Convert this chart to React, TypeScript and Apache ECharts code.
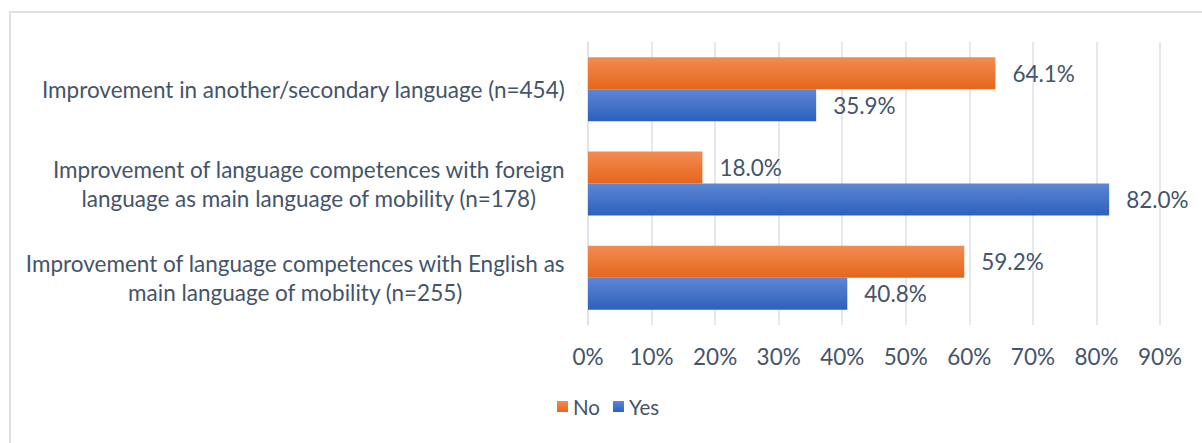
import React, { useEffect, useRef } from "react";
import * as echarts from "echarts";

const categories = [
  "Improvement in another/secondary language (n=454)",
  "Improvement of language competences with foreign\nlanguage as main language of mobility (n=178)",
  "Improvement of language competences with English as\nmain language of mobility (n=255)",
];
const noValues = [64.1, 18.0, 59.2];
const yesValues = [35.9, 82.0, 40.8];
const seriesNames = ["No", "Yes"];

const TEXT = "#44546a";
const FONT = "Lato";
const FS = 22.5;

export default function App() {
  const ref = useRef<HTMLDivElement>(null);
  useEffect(() => {
    const chart = echarts.init(ref.current!, null, { renderer: "svg" });
    const grad = (a: string, b: string) =>
      new echarts.graphic.LinearGradient(0, 0, 0, 1, [
        { offset: 0, color: a },
        { offset: 1, color: b },
      ]);
    const orange = grad("#f28c52", "#e5661b");
    const blue = grad("#5d86d5", "#2d61bd");
    const labelCfg = {
      show: true,
      position: "right",
      distance: 17,
      color: TEXT,
      fontFamily: FONT,
      fontSize: FS,
      formatter: (p: any) => `${p.value.toFixed(1)}%`,
    };
    chart.setOption({
      animation: false,
      textStyle: { fontFamily: FONT },
      graphic: [
        {
          type: "rect",
          shape: { x: 10, y: 12, width: 1300, height: 500 },
          style: { fill: "none", stroke: "#dde1e8", lineWidth: 2 },
          silent: true,
        },
      ],
      grid: { left: 588, right: 42, top: 42, bottom: 118, containLabel: false },
      legend: {
        data: seriesNames,
        bottom: 21,
        left: 552,
        itemWidth: 11,
        itemHeight: 11,
        itemGap: 13,
        icon: "rect",
        textStyle: { color: TEXT, fontFamily: FONT, fontSize: 20.5 },
      },
      xAxis: {
        type: "value",
        min: 0,
        max: 90,
        interval: 10,
        axisLine: { show: false },
        axisTick: { show: false },
        splitLine: { lineStyle: { color: "#dde1e8", width: 1.5 } },
        axisLabel: {
          color: TEXT,
          fontFamily: FONT,
          fontSize: FS,
          margin: 20,
          formatter: (v: number) => `${v}%`,
        },
      },
      yAxis: {
        type: "category",
        inverse: true,
        data: categories,
        axisLine: { show: true, lineStyle: { color: "#dde1e8", width: 1.5 } },
        axisTick: { show: false },
        axisLabel: {
          margin: 23,
          color: TEXT,
          fontFamily: FONT,
          fontSize: FS,
          lineHeight: 29,
          formatter: (v: string) =>
            v.split("\n").map((l) => `{c|${l}}`).join("\n"),
          rich: {
            c: { align: "center", color: TEXT, fontFamily: FONT, fontSize: FS, lineHeight: 29 },
          },
        },
      },
      series: [
        {
          name: seriesNames[0],
          type: "bar",
          data: noValues,
          barWidth: 32,
          barGap: "0%",
          itemStyle: { color: orange },
          label: labelCfg,
        },
        {
          name: seriesNames[1],
          type: "bar",
          data: yesValues,
          barWidth: 32,
          barGap: "0%",
          itemStyle: { color: blue },
          label: labelCfg,
        },
      ],
    });
    return () => chart.dispose();
  }, []);
  return (
    <div
      ref={ref}
      style={{ position: "absolute", left: 0, top: 0, width: 1202, height: 443 }}
    />
  );
}
